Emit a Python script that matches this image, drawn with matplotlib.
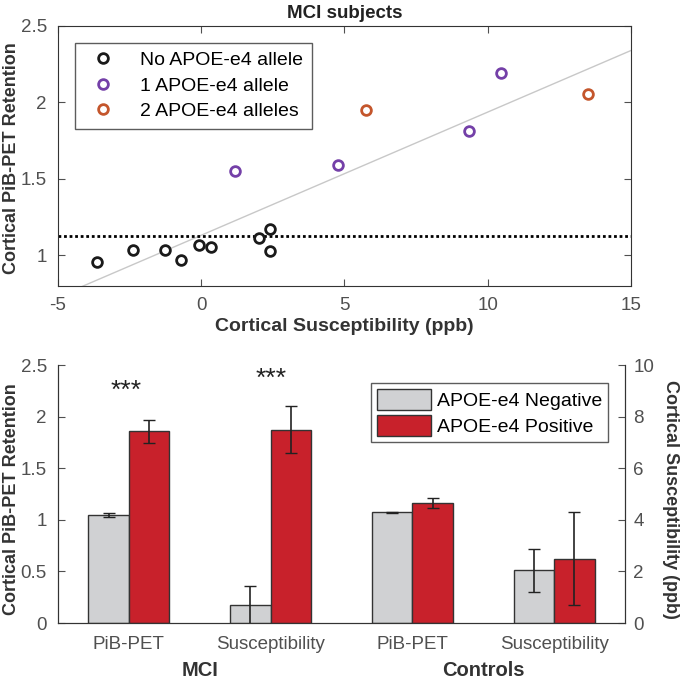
import numpy as np
import matplotlib
matplotlib.use("Agg")
import matplotlib.pyplot as plt
from matplotlib.lines import Line2D
from matplotlib.patches import Patch

plt.rcParams['font.family'] = ['Liberation Sans', 'DejaVu Sans']
plt.rcParams['axes.unicode_minus'] = False

# scatter data (MCI subjects)
no_e4_x = [-3.65, -2.39, -1.26, -0.71, -0.07, 0.33, 2.02, 2.40, 2.40]
no_e4_y = [0.96, 1.035, 1.035, 0.967, 1.067, 1.052, 1.113, 1.174, 1.026]
one_e4_x = [1.19, 4.78, 9.36, 10.45]
one_e4_y = [1.55, 1.593, 1.815, 2.193]
two_e4_x = [5.76, 13.51]
two_e4_y = [1.952, 2.054]
threshold = 1.13
fit_slope = 0.0805
fit_intercept = 1.132

# bar data
categories = ['PiB-PET', 'Susceptibility', 'PiB-PET', 'Susceptibility']
groups = ['MCI', 'Controls']
neg_vals = [1.046, 0.695, 1.071, 2.05]
neg_err = [0.022, 0.72, 0.005, 0.83]
pos_vals = [1.857, 7.50, 1.162, 2.50]
pos_err = [0.108, 0.90, 0.045, 1.82]
is_susc = [False, True, False, True]
stars = ['***', '***', '', '']

black = '#1a1a1a'
purple = '#7440a8'
orange = '#c4562c'
grey_bar = '#d0d1d3'
red_bar = '#c8212b'
tick_col = '#505050'
lab_col = '#333333'

fig = plt.figure(figsize=(6.85, 6.82), dpi=100)

# ---------- top scatter ----------
ax1 = fig.add_axes([0.0847, 0.5806, 0.8363, 0.3813])
xs = np.array([-5, 15])
ax1.plot(xs, fit_intercept + fit_slope * xs, color='#c8c8c8', lw=1)
ax1.axhline(threshold, color='black', lw=2, ls=(0, (1, 1)))
mk = dict(marker='o', ls='none', mfc='white', ms=7, mew=2)
ax1.plot(no_e4_x, no_e4_y, mec=black, **mk)
ax1.plot(one_e4_x, one_e4_y, mec=purple, **mk)
ax1.plot(two_e4_x, two_e4_y, mec=orange, **mk)
ax1.set_xlim(-5, 15)
ax1.set_ylim(0.8, 2.5)
ax1.set_xticks([-5, 0, 5, 10, 15])
ax1.set_yticks([1, 1.5, 2, 2.5])
ax1.set_yticklabels(['1', '1.5', '2', '2.5'])
ax1.tick_params(direction='in', top=True, right=True, labelsize=13.5,
                colors=tick_col, labelcolor=tick_col, length=5, pad=8)
for s in ax1.spines.values():
    s.set_color('#333333')
ax1.set_title('MCI subjects', fontsize=13.5, fontweight='bold', color='#222222', pad=6)
ax1.set_xlabel('Cortical Susceptibility (ppb)', fontsize=14, fontweight='bold', color=lab_col, labelpad=3)
ax1.set_ylabel('Cortical PiB-PET Retention', fontsize=13, fontweight='bold', color=lab_col)
ax1.yaxis.set_label_coords(-0.066, 0.49)
handles = [Line2D([], [], mec=c, **mk) for c in (black, purple, orange)]
leg = ax1.legend(handles, ['No APOE-e4 allele', '1 APOE-e4 allele', '2 APOE-e4 alleles'],
                 loc='upper left', bbox_to_anchor=(0.03, 0.935), fontsize=14,
                 frameon=True, fancybox=False, edgecolor='#333333', handletextpad=0.9,
                 borderpad=0.45, labelspacing=0.4, borderaxespad=0)
leg.get_frame().set_linewidth(1)

# ---------- bottom bars ----------
ax2 = fig.add_axes([0.0847, 0.0865, 0.8277, 0.3783])
ax3 = ax2.twinx()
x = np.arange(1, 5)
w = 0.285
for i in range(4):
    ax = ax3 if is_susc[i] else ax2
    ax.bar(x[i] - w / 2, neg_vals[i], w, color=grey_bar, edgecolor='#333333', lw=1,
           yerr=neg_err[i], capsize=4, error_kw=dict(ecolor='#222222', elinewidth=1.2))
    ax.bar(x[i] + w / 2, pos_vals[i], w, color=red_bar, edgecolor='#333333', lw=1,
           yerr=pos_err[i], capsize=4, error_kw=dict(ecolor='#222222', elinewidth=1.2))
ax2.text(0.98, 2.25, stars[0], ha='center', va='center', fontsize=19, color='#222222')
ax2.text(2.0, 2.37, stars[1], ha='center', va='center', fontsize=19, color='#222222')

ax2.set_xlim(0.5, 4.5)
ax2.set_ylim(0, 2.5)
ax3.set_ylim(0, 10)
ax2.set_yticks([0, 0.5, 1, 1.5, 2, 2.5])
ax2.set_yticklabels(['0', '0.5', '1', '1.5', '2', '2.5'])
ax3.set_yticks([0, 2, 4, 6, 8, 10])
ax2.set_xticks(x)
ax2.set_xticklabels(categories)
ax2.tick_params(axis='y', direction='in', labelsize=13.5, colors=tick_col, length=5, pad=8)
ax2.tick_params(axis='x', length=0, labelsize=13.5, colors=tick_col, pad=9)
ax3.tick_params(axis='y', direction='in', labelsize=13.5, colors=tick_col, length=5, pad=6)
for a in (ax2, ax3):
    a.spines['top'].set_visible(False)
    for s in ('left', 'right', 'bottom'):
        a.spines[s].set_color('#333333')
ax2.set_ylabel('Cortical PiB-PET Retention', fontsize=13, fontweight='bold', color=lab_col)
ax2.yaxis.set_label_coords(-0.067, 0.48)
ax3.set_ylabel('Cortical Susceptibility (ppb)', fontsize=13, fontweight='bold',
               color=lab_col, rotation=270)
ax3.yaxis.set_label_coords(1.096, 0.48)
for gx, g in zip([1.5, 3.5], groups):
    ax2.text(gx, -0.46, g, ha='center', va='center', fontsize=14.5, fontweight='bold',
             color=lab_col)
leg2 = ax2.legend([Patch(fc=grey_bar, ec='#333333'), Patch(fc=red_bar, ec='#333333')],
                  ['APOE-e4 Negative', 'APOE-e4 Positive'], loc='upper right',
                  bbox_to_anchor=(0.97, 0.93), fontsize=14, frameon=True, fancybox=False,
                  edgecolor='#333333', handlelength=2.8, handleheight=1.3, borderpad=0.3,
                  handletextpad=0.3, labelspacing=0.25, borderaxespad=0)
leg2.get_frame().set_linewidth(1)

fig.savefig('out.png', dpi=100)
